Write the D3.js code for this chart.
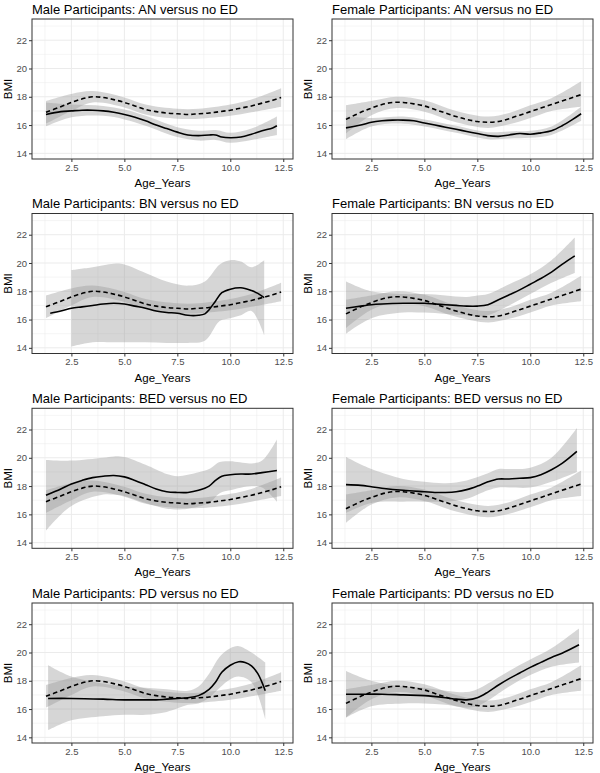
<!DOCTYPE html>
<html><head><meta charset="utf-8">
<script src="https://cdn.jsdelivr.net/npm/d3@7"></script>
<style>body{margin:0;background:#fff}svg{display:block}text{font-family:"Liberation Sans",Arial,sans-serif}</style>
</head><body>
<svg id="c" width="600" height="773"></svg>
<script>
// ---------- DATA ----------
const titles = [
 "Male Participants: AN versus no ED","Female Participants: AN versus no ED",
 "Male Participants: BN versus no ED","Female Participants: BN versus no ED",
 "Male Participants: BED versus no ED","Female Participants: BED versus no ED",
 "Male Participants: PD versus no ED","Female Participants: PD versus no ED"];
const xTicks = [2.5,5.0,7.5,10.0,12.5];
const yTicks = [14,16,18,20,22];
const xTickLabels = ["2.5","5.0","7.5","10.0","12.5"];
const xTitle = "Age_Years", yTitle = "BMI";

// reference (no ED) lines  [age, BMI]
const maleNoED = [[1.3,16.9],[2.0,17.3],[2.5,17.6],[3.0,17.85],[3.5,18.0],[4.0,17.95],[4.5,17.8],[5.0,17.6],[5.5,17.35],[6.0,17.1],[6.5,16.95],[7.0,16.85],[7.5,16.8],[8.0,16.75],[8.5,16.8],[9.0,16.85],[9.5,16.95],[10.0,17.05],[10.5,17.2],[11.0,17.35],[11.5,17.55],[12.0,17.75],[12.4,17.95]];
const maleNoEDBand = [[1.3,17.7,16.1],[2.5,18.2,17.0],[3.5,18.4,17.6],[5.0,17.95,17.25],[6.0,17.45,16.75],[7.5,17.15,16.45],[8.5,17.15,16.45],[10.0,17.45,16.65],[11.0,17.8,16.9],[12.4,18.6,17.3]];
const femaleNoED = [[1.3,16.4],[2.0,16.9],[2.5,17.2],[3.0,17.45],[3.5,17.6],[4.0,17.6],[4.5,17.5],[5.0,17.35],[5.5,17.1],[6.0,16.85],[6.5,16.6],[7.0,16.4],[7.5,16.25],[8.0,16.2],[8.5,16.25],[9.0,16.45],[9.5,16.7],[10.0,16.95],[10.5,17.2],[11.0,17.45],[11.5,17.7],[12.0,17.95],[12.4,18.15]];
const femaleNoEDBand = [[1.3,17.4,15.4],[2.5,17.7,16.7],[3.7,18.0,17.2],[5.0,17.75,16.95],[6.5,17.0,16.2],[8.0,16.6,15.8],[9.0,16.85,16.05],[10.0,17.4,16.5],[11.0,17.9,17.0],[12.4,19.1,17.3]];

// ED group lines
const maleAN = [[1.3,16.75],[2.0,16.95],[2.5,17.0],[3.0,17.05],[3.5,17.05],[4.0,17.0],[4.5,16.9],[5.0,16.75],[5.5,16.55],[6.0,16.3],[6.5,16.0],[7.0,15.75],[7.5,15.5],[8.0,15.3],[8.5,15.25],[9.0,15.3],[9.3,15.3],[9.6,15.15],[10.0,15.1],[10.5,15.15],[11.0,15.35],[11.5,15.6],[12.0,15.8],[12.2,15.95]];
const maleANBand = [[1.3,17.6,15.9],[2.5,17.45,16.55],[4.0,17.35,16.65],[5.0,17.1,16.4],[6.0,16.65,15.95],[7.5,15.85,15.15],[8.5,15.6,14.9],[9.3,15.65,14.95],[10.0,15.45,14.75],[11.0,15.75,14.95],[12.2,16.6,15.3]];
const femaleAN = [[1.3,15.8],[2.0,16.0],[2.5,16.2],[3.0,16.3],[3.5,16.35],[4.0,16.35],[4.5,16.3],[5.0,16.15],[5.5,16.0],[6.0,15.85],[6.5,15.7],[7.0,15.55],[7.5,15.4],[8.0,15.25],[8.5,15.2],[9.0,15.3],[9.5,15.4],[10.0,15.35],[10.5,15.45],[11.0,15.6],[11.5,15.95],[12.0,16.4],[12.4,16.8]];
const femaleANBand = [[1.3,16.6,15.0],[2.5,16.5,15.9],[4.0,16.6,16.1],[5.0,16.4,15.9],[6.5,15.95,15.45],[8.0,15.5,15.0],[9.0,15.55,15.05],[10.0,15.6,15.1],[11.0,15.9,15.3],[12.4,17.3,16.3]];
const maleBN = [[1.5,16.45],[2.0,16.6],[2.5,16.8],[3.0,16.9],[3.5,17.0],[4.0,17.1],[4.5,17.15],[5.0,17.1],[5.5,16.95],[6.0,16.8],[6.5,16.6],[7.0,16.5],[7.5,16.45],[8.0,16.3],[8.5,16.3],[8.8,16.4],[9.0,16.7],[9.3,17.3],[9.6,17.9],[10.0,18.15],[10.5,18.25],[11.0,18.05],[11.3,17.85],[11.6,17.55]];
const maleBNBand = [[2.5,19.5,14.1],[3.5,19.7,14.4],[4.5,19.95,14.4],[5.0,19.9,14.4],[6.0,19.3,14.4],[7.0,18.7,14.35],[8.0,18.4,14.35],[8.8,18.7,14.5],[9.5,19.9,15.9],[10.0,20.2,16.1],[10.5,20.1,16.3],[11.0,19.7,16.6],[11.6,20.2,14.9]];
const femaleBN = [[1.3,16.8],[2.0,16.95],[2.5,17.05],[3.0,17.1],[4.0,17.15],[5.0,17.15],[5.5,17.1],[6.0,17.05],[6.5,17.0],[7.0,16.95],[7.5,16.95],[8.0,17.05],[8.5,17.4],[9.0,17.75],[9.5,18.1],[10.0,18.5],[10.5,18.9],[11.0,19.35],[11.5,19.9],[12.1,20.5]];
const femaleBNBand = [[1.3,18.7,15.0],[2.5,18.0,16.1],[4.0,17.8,16.5],[5.0,17.8,16.5],[6.0,17.7,16.4],[7.0,17.6,16.3],[7.5,17.7,16.2],[8.0,17.8,16.3],[9.0,18.5,17.0],[10.0,19.2,17.8],[11.0,20.2,18.6],[12.1,21.8,19.3]];
const maleBED = [[1.3,17.35],[2.0,17.8],[2.5,18.15],[3.0,18.4],[3.5,18.6],[4.0,18.7],[4.5,18.75],[5.0,18.65],[5.5,18.4],[6.0,18.1],[6.5,17.8],[7.0,17.6],[7.5,17.55],[8.0,17.55],[8.5,17.7],[9.0,18.0],[9.3,18.4],[9.6,18.7],[10.0,18.8],[10.5,18.85],[11.0,18.85],[11.5,18.95],[12.2,19.1]];
const maleBEDBand = [[1.3,19.85,14.85],[2.5,19.8,16.6],[4.0,20.0,17.4],[4.5,20.1,17.4],[5.0,20.05,17.3],[6.0,19.5,16.8],[7.0,18.85,16.4],[7.5,18.7,16.35],[8.0,18.8,16.4],[9.0,19.2,16.8],[9.5,19.7,17.5],[10.0,19.75,17.7],[11.0,19.6,18.0],[11.5,19.8,17.9],[12.2,21.3,16.9]];
const femaleBED = [[1.3,18.1],[2.0,18.05],[2.5,17.95],[3.0,17.85],[4.0,17.7],[5.0,17.6],[5.5,17.55],[6.0,17.55],[6.5,17.6],[7.0,17.75],[7.5,18.0],[8.0,18.3],[8.5,18.5],[9.0,18.5],[9.5,18.55],[10.0,18.6],[10.5,18.8],[11.0,19.15],[11.5,19.6],[12.2,20.45]];
const femaleBEDBand = [[1.3,20.05,16.1],[2.5,19.2,16.8],[4.0,18.5,16.9],[5.0,18.3,16.9],[6.0,18.2,16.9],[7.0,18.4,17.1],[8.0,18.9,17.7],[8.5,19.2,17.9],[9.0,19.2,17.9],[10.0,19.3,17.9],[11.0,20.0,18.3],[12.2,22.1,19.0]];
const malePD = [[1.4,16.75],[2.5,16.75],[4.0,16.7],[5.0,16.65],[6.0,16.65],[6.5,16.65],[7.0,16.7],[7.5,16.75],[8.0,16.8],[8.5,16.95],[9.0,17.4],[9.3,17.9],[9.6,18.6],[10.0,19.1],[10.4,19.35],[10.7,19.3],[11.0,19.05],[11.3,18.5],[11.65,17.3]];
const malePDBand = [[1.4,19.1,14.5],[2.5,18.3,15.2],[4.0,17.8,15.5],[5.0,17.6,15.6],[6.0,17.5,15.6],[7.0,17.4,15.8],[8.0,17.3,16.3],[8.5,17.6,16.4],[9.0,18.5,16.8],[9.5,19.7,17.5],[10.0,20.3,18.1],[10.4,20.45,18.3],[11.0,20.0,17.9],[11.65,19.3,15.3]];
const femalePD = [[1.3,17.05],[2.0,17.05],[3.0,17.05],[4.0,17.0],[5.0,16.95],[6.0,16.8],[6.5,16.7],[7.0,16.65],[7.5,16.8],[8.0,17.2],[8.5,17.7],[9.0,18.15],[9.5,18.55],[10.0,18.95],[10.5,19.3],[11.0,19.65],[11.5,19.95],[12.3,20.55]];
const femalePDBand = [[1.3,18.7,15.4],[2.5,18.0,16.2],[4.0,17.6,16.4],[5.0,17.5,16.4],[6.0,17.3,16.3],[7.0,17.2,16.1],[7.5,17.4,16.2],[8.0,17.8,16.6],[9.0,18.7,17.6],[10.0,19.5,18.4],[11.0,20.3,19.0],[12.3,21.7,19.3]];

const edLines = [maleAN,femaleAN,maleBN,femaleBN,maleBED,femaleBED,malePD,femalePD];
const edBands = [maleANBand,femaleANBand,maleBNBand,femaleBNBand,maleBEDBand,femaleBEDBand,malePDBand,femalePDBand];

// ---------- DRAW ----------
const svg = d3.select("#c");
const pw = 261, ph = 140;
const lefts = [32, 332];
const tops = [19, 213.5, 408.3, 603];
const x = d3.scaleLinear().domain([0.64, 12.96]).range([0, pw]);
const y = d3.scaleLinear().domain([13.6, 23.5]).range([ph, 0]);
const xMinor = [1.25,3.75,6.25,8.75,11.25];
const yMinor = [15,17,19,21,23];
const curve = d3.curveCatmullRom.alpha(0.5);
const line = d3.line().x(d=>x(d[0])).y(d=>y(d[1])).curve(curve);
const area = d3.area().x(d=>x(d[0])).y0(d=>y(d[2])).y1(d=>y(d[1])).curve(curve);

titles.forEach((t,i)=>{
  const col = i%2, row = Math.floor(i/2);
  const g = svg.append("g").attr("transform",`translate(${lefts[col]},${tops[row]})`);
  const female = col===1;
  // grid
  g.selectAll(".gxm").data(xMinor).join("line").attr("x1",d=>x(d)).attr("x2",d=>x(d)).attr("y1",0).attr("y2",ph).attr("stroke","#ebebeb").attr("stroke-width",0.5);
  g.selectAll(".gym").data(yMinor).join("line").attr("x1",0).attr("x2",pw).attr("y1",d=>y(d)).attr("y2",d=>y(d)).attr("stroke","#ebebeb").attr("stroke-width",0.5);
  g.selectAll(".gx").data(xTicks).join("line").attr("x1",d=>x(d)).attr("x2",d=>x(d)).attr("y1",0).attr("y2",ph).attr("stroke","#ebebeb").attr("stroke-width",1);
  g.selectAll(".gy").data(yTicks).join("line").attr("x1",0).attr("x2",pw).attr("y1",d=>y(d)).attr("y2",d=>y(d)).attr("stroke","#ebebeb").attr("stroke-width",1);
  g.append("clipPath").attr("id","cp"+i).append("rect").attr("width",pw).attr("height",ph);
  const pg = g.append("g").attr("clip-path",`url(#cp${i})`);
  // bands
  pg.append("path").datum(edBands[i]).attr("d",area).attr("fill","#999999").attr("fill-opacity",0.4);
  pg.append("path").datum(female?femaleNoEDBand:maleNoEDBand).attr("d",area).attr("fill","#999999").attr("fill-opacity",0.4);
  // lines
  pg.append("path").datum(edLines[i]).attr("d",line).attr("fill","none").attr("stroke","#000").attr("stroke-width",1.6);
  pg.append("path").datum(female?femaleNoED:maleNoED).attr("d",line).attr("fill","none").attr("stroke","#000").attr("stroke-width",1.6).attr("stroke-dasharray","4.5,3");
  // border
  g.append("rect").attr("width",pw).attr("height",ph).attr("fill","none").attr("stroke","#333333").attr("stroke-width",1);
  // axes
  const xa = g.append("g").attr("transform",`translate(0,${ph})`).call(d3.axisBottom(x).tickValues(xTicks).tickFormat((d,k)=>xTickLabels[k]).tickSize(3).tickPadding(2));
  const ya = g.append("g").call(d3.axisLeft(y).tickValues(yTicks).tickSize(3).tickPadding(2));
  [xa,ya].forEach(a=>{a.select(".domain").remove();a.selectAll("line").attr("stroke","#333333");a.selectAll("text").attr("fill","#4d4d4d").style("font-size","9.5px").style("font-family","Liberation Sans, Arial, sans-serif");});
  // titles
  g.append("text").attr("x",0).attr("y",-5.5).text(t).style("font-size","13px").attr("fill","#000");
  g.append("text").attr("x",pw/2).attr("y",ph+28).attr("text-anchor","middle").text(xTitle).style("font-size","11.5px");
  g.append("text").attr("transform",`translate(-20,${ph/2}) rotate(-90)`).attr("text-anchor","middle").text(yTitle).style("font-size","11.5px");
});
</script>
</body></html>
